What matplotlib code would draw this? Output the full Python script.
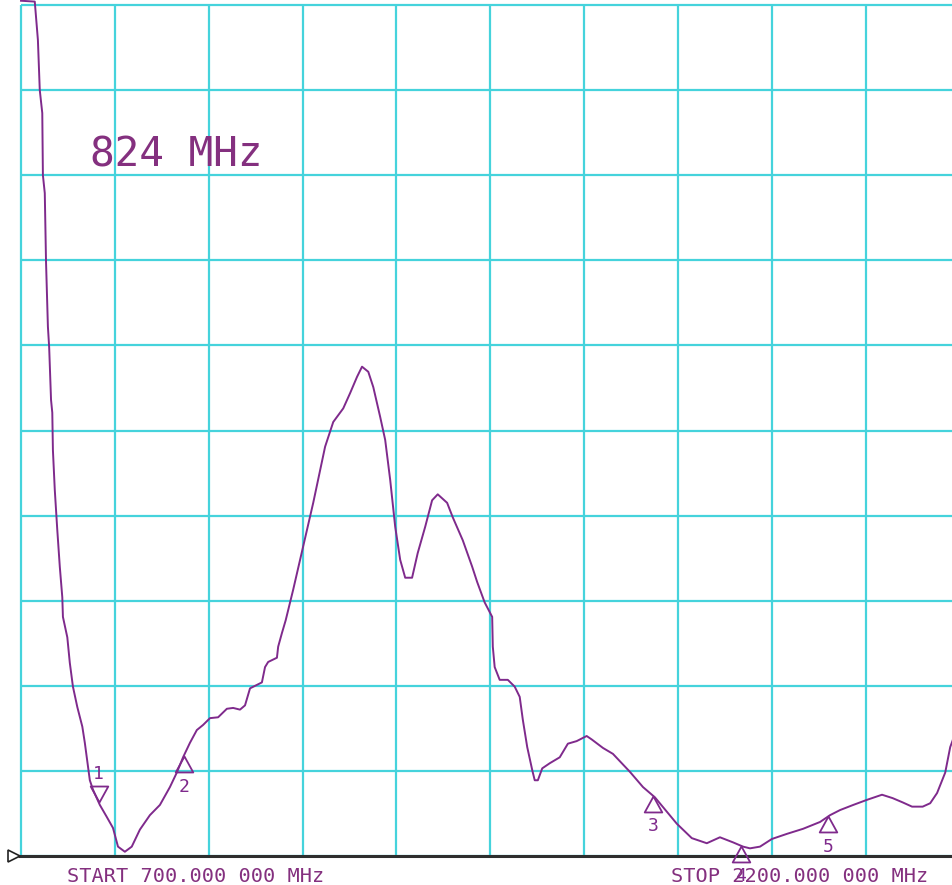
import numpy as np
import matplotlib.pyplot as plt
from matplotlib.path import Path

# sweep 700 - 2200 MHz, 10 divisions each way, level in divisions above the bottom line
start_mhz = 700
stop_mhz = 2200
mhz_per_div = 150

freq = [700, 722, 727, 730, 734, 735, 738, 740, 743, 745, 748, 750, 751, 754, 758,
        762, 766, 767, 774, 778, 783, 790, 798, 802, 807, 810, 815, 826, 837, 847,
        855, 866, 877, 890, 906, 922, 938, 949, 959, 970, 981, 991, 1002, 1015, 1029,
        1039, 1050, 1058, 1066, 1077, 1085, 1090, 1095, 1109, 1111, 1117, 1123, 1135,
        1146, 1167, 1186, 1199, 1215, 1226, 1237, 1245, 1255, 1263, 1274, 1282, 1290,
        1298, 1306, 1314, 1325, 1334, 1346, 1357, 1366, 1381, 1390, 1406, 1421, 1429,
        1441, 1453, 1454, 1457, 1465, 1478, 1489, 1497, 1502, 1509, 1517, 1521, 1526,
        1533, 1545, 1561, 1574, 1588, 1604, 1612, 1630, 1646, 1673, 1694, 1713, 1748,
        1772, 1796, 1817, 1838, 1854, 1865, 1881, 1900, 1924, 1950, 1977, 1993, 2009,
        2030, 2052, 2076, 2093, 2109, 2124, 2141, 2153, 2164, 2177, 2185, 2189, 2200]
level = [10.05, 10.04, 9.59, 9.00, 8.73, 8.00, 7.79, 6.98, 6.22, 5.98, 5.36, 5.21, 4.77,
         4.30, 3.83, 3.40, 3.04, 2.81, 2.57, 2.27, 1.99, 1.75, 1.52, 1.33, 1.05, 0.89,
         0.78, 0.60, 0.46, 0.33, 0.11, 0.05, 0.11, 0.31, 0.48, 0.60, 0.81, 0.98, 1.16,
         1.33, 1.48, 1.54, 1.62, 1.63, 1.73, 1.74, 1.72, 1.77, 1.97, 2.01, 2.04, 2.22,
         2.28, 2.33, 2.46, 2.62, 2.77, 3.13, 3.48, 4.15, 4.81, 5.10, 5.26, 5.44, 5.63,
         5.75, 5.69, 5.51, 5.16, 4.89, 4.42, 3.87, 3.48, 3.27, 3.27, 3.56, 3.87, 4.18,
         4.25, 4.15, 3.98, 3.71, 3.40, 3.22, 2.98, 2.81, 2.46, 2.22, 2.07, 2.07, 1.99,
         1.87, 1.60, 1.28, 1.01, 0.89, 0.89, 1.03, 1.09, 1.16, 1.32, 1.35, 1.41, 1.37,
         1.27, 1.20, 0.99, 0.81, 0.69, 0.38, 0.21, 0.15, 0.22, 0.16, 0.11, 0.09, 0.11,
         0.20, 0.26, 0.32, 0.40, 0.48, 0.54, 0.60, 0.66, 0.72, 0.68, 0.63, 0.58, 0.58,
         0.62, 0.74, 0.98, 1.28, 1.36, 1.70]

marker_freq = [824, 960, 1710, 1850, 1990]
marker_names = ["1", "2", "3", "4", "5"]
active_marker = 0

grid_col = "#45d3dc"
trace_col = "#7f2a8c"
text_col = "#84307f"

fig = plt.figure(figsize=(9.53, 8.85), dpi=100)
ax = fig.add_axes([0, 0, 1, 1])
ax.set_xlim(start_mhz - 21 * mhz_per_div / 93.86, start_mhz + 932 * mhz_per_div / 93.86)
ax.set_ylim(-29 / 85.1, 856 / 85.1)
ax.axis("off")

# graticule
vx = np.arange(start_mhz, stop_mhz + 1, mhz_per_div)
ax.vlines(vx, 0, 10, color=grid_col, lw=1.6, zorder=1)
ax.hlines(np.arange(0, 11), start_mhz, stop_mhz, color=grid_col, lw=1.6, zorder=1)
ax.hlines(0, start_mhz - 4, stop_mhz, color="#2e2e2e", lw=2.2, zorder=3)
ax.plot([start_mhz - 11], [0], marker=">", ms=8, mfc="white", mec="#222222", mew=1.2,
        zorder=4, clip_on=False)

ax.plot(freq, level, color=trace_col, lw=1.4, zorder=2)

# markers: apex of triangle sits on the trace
up = Path([(0, 0), (-0.55, -1), (0.55, -1), (0, 0)],
          [Path.MOVETO, Path.LINETO, Path.LINETO, Path.CLOSEPOLY])
down = Path([(0, 0), (-0.55, 1), (0.55, 1), (0, 0)],
            [Path.MOVETO, Path.LINETO, Path.LINETO, Path.CLOSEPOLY])
mono = "DejaVu Sans Mono"
for i, (mf, name) in enumerate(zip(marker_freq, marker_names)):
    my = np.interp(mf, freq, level)
    if i == active_marker:
        ax.plot([mf], [my], marker=down, ms=23, mfc="none", mec=trace_col, mew=1.3, zorder=5)
        off = 20
    else:
        ax.plot([mf], [my], marker=up, ms=23, mfc="none", mec=trace_col, mew=1.3, zorder=5)
        off = -22
    ax.annotate(name, (mf, my), xytext=(0, off), textcoords="offset points",
                ha="center", va="center", fontsize=13, family=mono, color=trace_col,
                annotation_clip=False)

ax.text(810, 8.10, f"{marker_freq[active_marker]} MHz", fontsize=29.5, family=mono,
        color=text_col, ha="left", va="baseline")
ax.text(773, -0.305, "START %.3f 000 MHz" % start_mhz, fontsize=14.6, family=mono,
        color=text_col, ha="left", va="baseline")
ax.text(1739, -0.305, "STOP %.3f 000 MHz" % stop_mhz, fontsize=14.6, family=mono,
        color=text_col, ha="left", va="baseline")

fig.savefig("out.png", dpi=100)
